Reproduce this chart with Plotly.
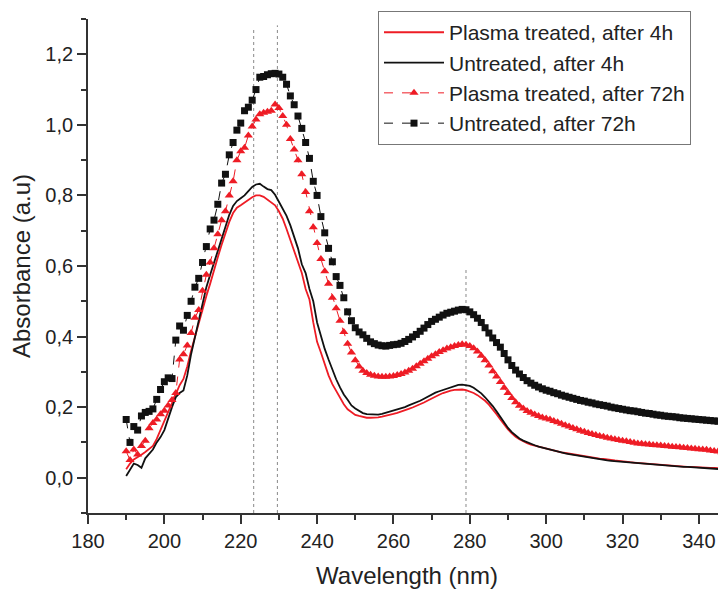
import plotly.graph_objects as go

wavelength = list(range(190, 351))

plasma_4h = [
    0.024, 0.040, 0.052, 0.058, 0.065, 0.073, 0.082, 0.090, 0.110, 0.135,
    0.160, 0.185, 0.210, 0.240, 0.262, 0.280, 0.315, 0.360, 0.400, 0.440,
    0.475, 0.515, 0.550, 0.590, 0.625, 0.660, 0.695, 0.725, 0.750, 0.765,
    0.772, 0.780, 0.787, 0.795, 0.800, 0.800, 0.796, 0.788, 0.780, 0.772,
    0.755, 0.734, 0.705, 0.675, 0.645, 0.610, 0.580, 0.535, 0.505, 0.440,
    0.385, 0.355, 0.320, 0.290, 0.265, 0.245, 0.226, 0.208, 0.194, 0.185,
    0.178, 0.175, 0.172, 0.170, 0.170, 0.170, 0.171, 0.173, 0.175, 0.178,
    0.181, 0.184, 0.187, 0.191, 0.195, 0.199, 0.203, 0.208, 0.213, 0.219,
    0.225, 0.230, 0.235, 0.240, 0.244, 0.247, 0.249, 0.250, 0.250, 0.248,
    0.245, 0.240, 0.234, 0.227, 0.218, 0.207, 0.195, 0.180, 0.165, 0.150,
    0.137, 0.126, 0.116, 0.109, 0.103, 0.098, 0.094, 0.091, 0.088, 0.085,
    0.082, 0.079, 0.077, 0.074, 0.072, 0.070, 0.068, 0.066, 0.064, 0.062,
    0.060, 0.059, 0.057, 0.056, 0.054, 0.053, 0.051, 0.050, 0.049, 0.048,
    0.046, 0.045, 0.044, 0.043, 0.042, 0.041, 0.040, 0.039, 0.038, 0.037,
    0.036, 0.035, 0.035, 0.034, 0.033, 0.033, 0.032, 0.031, 0.031, 0.030,
    0.030, 0.029, 0.029, 0.028, 0.028, 0.027, 0.027, 0.026, 0.026, 0.025,
    0.025,
]

untreated_4h = [
    0.005, 0.022, 0.040, 0.036, 0.028, 0.055, 0.068, 0.080, 0.100, 0.115,
    0.135, 0.170, 0.200, 0.228, 0.240, 0.247, 0.290, 0.350, 0.400, 0.450,
    0.500, 0.540, 0.575, 0.610, 0.645, 0.680, 0.715, 0.745, 0.770, 0.784,
    0.792, 0.800, 0.812, 0.824, 0.831, 0.833, 0.825, 0.818, 0.815, 0.802,
    0.782, 0.762, 0.742, 0.715, 0.682, 0.650, 0.605, 0.580, 0.535, 0.500,
    0.440, 0.400, 0.365, 0.335, 0.305, 0.279, 0.256, 0.236, 0.221, 0.205,
    0.196, 0.189, 0.183, 0.180, 0.179, 0.179, 0.179, 0.181, 0.184, 0.187,
    0.190, 0.193, 0.196, 0.200, 0.205, 0.209, 0.213, 0.218, 0.224, 0.230,
    0.236, 0.241, 0.245, 0.249, 0.253, 0.257, 0.260, 0.263, 0.264, 0.263,
    0.260, 0.255, 0.248, 0.239, 0.228, 0.216, 0.203, 0.188, 0.172, 0.156,
    0.141, 0.129, 0.119, 0.111, 0.105, 0.100, 0.096, 0.092, 0.088, 0.085,
    0.082, 0.079, 0.076, 0.073, 0.071, 0.069, 0.067, 0.065, 0.063, 0.061,
    0.059, 0.057, 0.055, 0.054, 0.052, 0.051, 0.049, 0.048, 0.047, 0.046,
    0.045, 0.044, 0.043, 0.042, 0.041, 0.040, 0.039, 0.038, 0.037, 0.036,
    0.035, 0.034, 0.034, 0.033, 0.033, 0.032, 0.031, 0.031, 0.030, 0.029,
    0.029, 0.028, 0.027, 0.027, 0.026, 0.025, 0.024, 0.024, 0.023, 0.022,
    0.022,
]

plasma_72h = [
    0.075, 0.050, 0.080, 0.066, 0.090, 0.105, 0.140, 0.155, 0.165, 0.180,
    0.190, 0.205, 0.220, 0.240, 0.335, 0.350, 0.375, 0.410, 0.453, 0.475,
    0.530, 0.575, 0.610, 0.650, 0.690, 0.730, 0.755, 0.800, 0.840, 0.900,
    0.925, 0.935, 0.970, 0.995, 1.015, 1.030, 1.034, 1.037, 1.040, 1.058,
    1.048, 1.025, 1.000, 0.960, 0.930, 0.900, 0.860, 0.810, 0.755, 0.710,
    0.665, 0.620, 0.585, 0.550, 0.510, 0.480, 0.445, 0.413, 0.380, 0.355,
    0.333, 0.315, 0.303, 0.297, 0.292, 0.289, 0.287, 0.286, 0.286, 0.287,
    0.288, 0.291, 0.294, 0.298, 0.303, 0.309, 0.316, 0.323, 0.330, 0.337,
    0.344, 0.350, 0.356, 0.361, 0.366, 0.370, 0.373, 0.376, 0.378, 0.377,
    0.373, 0.367, 0.358, 0.346, 0.333, 0.318, 0.302, 0.287, 0.271, 0.255,
    0.240, 0.226, 0.214, 0.204, 0.196, 0.189, 0.184, 0.179, 0.175, 0.171,
    0.168, 0.165, 0.161, 0.157, 0.153, 0.149, 0.145, 0.141, 0.137, 0.133,
    0.130, 0.127, 0.124, 0.121, 0.118, 0.116, 0.113, 0.111, 0.109, 0.107,
    0.105, 0.103, 0.101, 0.099, 0.097, 0.096, 0.095, 0.094, 0.093, 0.092,
    0.091, 0.090, 0.089, 0.088, 0.087, 0.086, 0.085, 0.084, 0.083, 0.082,
    0.081, 0.080, 0.079, 0.077, 0.076, 0.074, 0.072, 0.071, 0.070, 0.069,
    0.068,
]

untreated_72h = [
    0.165, 0.100, 0.145, 0.135, 0.175, 0.185, 0.188, 0.195, 0.222, 0.250,
    0.272, 0.283, 0.281, 0.390, 0.430, 0.418, 0.460, 0.500, 0.540, 0.565,
    0.610, 0.655, 0.705, 0.730, 0.775, 0.835, 0.860, 0.915, 0.950, 0.985,
    1.005, 1.040, 1.050, 1.070, 1.100, 1.135, 1.137, 1.142, 1.145, 1.146,
    1.144, 1.135, 1.115, 1.082, 1.057, 1.025, 0.990, 0.950, 0.905, 0.840,
    0.800, 0.740, 0.694, 0.650, 0.612, 0.570, 0.545, 0.510, 0.470, 0.445,
    0.425, 0.413, 0.405, 0.395, 0.385, 0.380, 0.376, 0.374, 0.373, 0.375,
    0.377, 0.378, 0.381, 0.386, 0.392, 0.399, 0.406, 0.415, 0.424, 0.434,
    0.443, 0.449, 0.455, 0.461, 0.466, 0.469, 0.472, 0.475, 0.477, 0.476,
    0.470, 0.462, 0.452, 0.440, 0.425, 0.410, 0.396, 0.383, 0.370, 0.352,
    0.334, 0.318, 0.305, 0.294, 0.284, 0.275, 0.268, 0.262, 0.257, 0.252,
    0.248, 0.245, 0.241, 0.238, 0.234, 0.231, 0.228, 0.225, 0.222, 0.219,
    0.217, 0.214, 0.212, 0.209, 0.207, 0.205, 0.203, 0.200, 0.198, 0.196,
    0.194, 0.192, 0.190, 0.189, 0.187, 0.185, 0.183, 0.182, 0.180, 0.178,
    0.177, 0.175, 0.174, 0.173, 0.172, 0.170, 0.169, 0.168, 0.167, 0.166,
    0.165, 0.164, 0.163, 0.162, 0.161, 0.160, 0.160, 0.159, 0.158, 0.157,
    0.157,
]

# reference peak markers (wavelength, top of dotted line in absorbance)
peak_lines_x = [223.4, 229.6, 279.0]
peak_lines_top = [1.273, 1.282, 0.596]

RED = "#ee1c25"
BLACK = "#111111"
FONT = "Liberation Sans, Arial, sans-serif"
TXT = "#222222"

fig = go.Figure()
fig.add_trace(go.Scatter(x=wavelength, y=plasma_4h, mode="lines",
                         name="Plasma treated, after 4h",
                         line=dict(color=RED, width=1.8)))
fig.add_trace(go.Scatter(x=wavelength, y=untreated_4h, mode="lines",
                         name="Untreated, after 4h",
                         line=dict(color=BLACK, width=1.8)))
fig.add_trace(go.Scatter(x=wavelength, y=plasma_72h, mode="lines+markers",
                         name="Plasma treated, after 72h",
                         line=dict(color=RED, width=1, dash="dash"),
                         marker=dict(symbol="triangle-up", size=8, color=RED)))
fig.add_trace(go.Scatter(x=wavelength, y=untreated_72h, mode="lines+markers",
                         name="Untreated, after 72h",
                         line=dict(color=BLACK, width=1, dash="dash"),
                         marker=dict(symbol="square", size=7, color=BLACK)))

for px, top in zip(peak_lines_x, peak_lines_top):
    fig.add_shape(type="line", xref="x", yref="y", x0=px, x1=px, y0=-0.1, y1=top,
                  line=dict(color="#888888", width=1, dash="dot"), layer="below")

axis_common = dict(
    showline=True, linecolor="#333333", linewidth=1.8,
    ticks="outside", ticklen=9, tickwidth=1.5, tickcolor="#333333",
    showgrid=False, zeroline=False,
    tickfont=dict(family=FONT, size=20, color=TXT),
)

fig.update_layout(
    width=718, height=581,
    margin=dict(l=80, r=0, t=11, b=76),
    paper_bgcolor="white", plot_bgcolor="white",
    separators=",.",
    font=dict(family=FONT, color=TXT),
    xaxis=dict(
        range=[180, 347.1], tickmode="linear", tick0=180, dtick=20,
        minor=dict(dtick=10, ticks="outside", ticklen=5, tickwidth=1.5, tickcolor="#333333"),
        title=dict(text="Wavelength (nm)", font=dict(family=FONT, size=24, color=TXT), standoff=18),
        **axis_common,
    ),
    yaxis=dict(
        range=[-0.1, 1.3], tickmode="linear", tick0=0, dtick=0.2, tickformat=".1f",
        minor=dict(dtick=0.1, ticks="outside", ticklen=5, tickwidth=1.5, tickcolor="#333333"),
        title=dict(text="Absorbance (a.u)", font=dict(family=FONT, size=24, color=TXT), standoff=9),
        **axis_common,
    ),
    legend=dict(
        x=(370 - 80) / 638, y=1.016, xanchor="left", yanchor="top",
        bgcolor="white", bordercolor="#777777", borderwidth=1,
        font=dict(family=FONT, size=21, color=TXT),
        tracegroupgap=0, itemwidth=60,
        entrywidth=300, entrywidthmode="pixels",
    ),
    showlegend=True,
)

fig.write_html("out.html")
